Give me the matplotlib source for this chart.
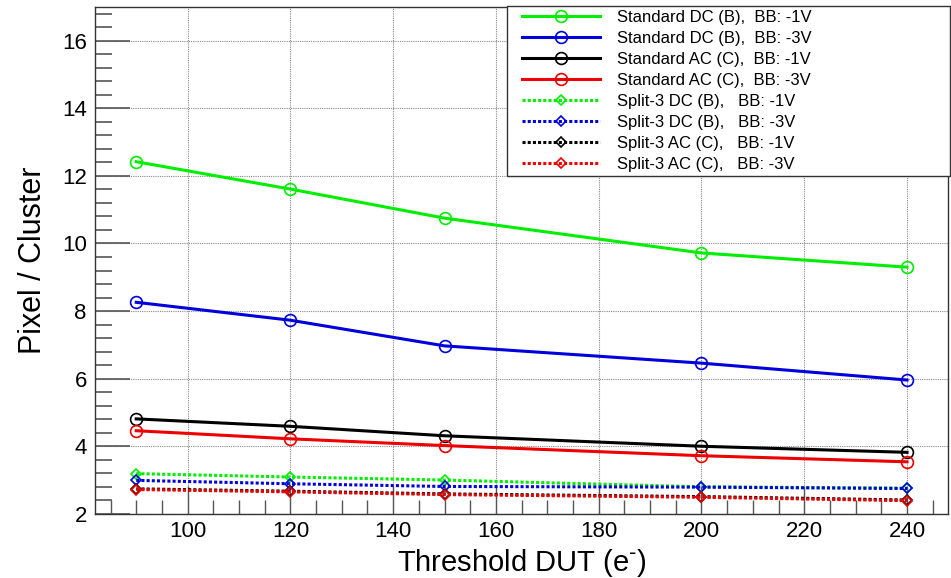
import numpy as np
import matplotlib.pyplot as plt
from matplotlib.ticker import MultipleLocator
from matplotlib.patches import Rectangle

plt.rcParams['font.family'] = ['Liberation Sans', 'DejaVu Sans']

# threshold settings (electrons)
threshold = [90, 120, 150, 200, 240]

# pixel multiplicity per cluster
std_dc_1v = [12.42, 11.61, 10.75, 9.72, 9.30]
std_dc_3v = [8.26, 7.73, 6.97, 6.46, 5.96]
std_ac_1v = [4.81, 4.59, 4.31, 4.00, 3.82]
std_ac_3v = [4.46, 4.22, 4.02, 3.72, 3.54]
spl_dc_1v = [3.19, 3.09, 3.00, 2.80, 2.76]
spl_dc_3v = [2.99, 2.89, 2.81, 2.79, 2.75]
spl_ac_1v = [2.74, 2.67, 2.59, 2.51, 2.41]
spl_ac_3v = [2.72, 2.65, 2.57, 2.49, 2.39]

labels = ['Standard DC (B),  BB: -1V', 'Standard DC (B),  BB: -3V',
          'Standard AC (C),  BB: -1V', 'Standard AC (C),  BB: -3V',
          'Split-3 DC (B),   BB: -1V', 'Split-3 DC (B),   BB: -3V',
          'Split-3 AC (C),   BB: -1V', 'Split-3 AC (C),   BB: -3V']
series = [std_dc_1v, std_dc_3v, std_ac_1v, std_ac_3v,
          spl_dc_1v, spl_dc_3v, spl_ac_1v, spl_ac_3v]
colors = ['#00ee00', '#0000dd', '#000000', '#ee0000'] * 2

fig = plt.figure(figsize=(9.51, 5.78), dpi=100)
ax = fig.add_axes([0.1, 0.111, 0.897, 0.877])

for i, (vals, lab, c) in enumerate(zip(series, labels, colors)):
    if i < 4:
        ax.plot(threshold, vals, '-', color=c, lw=2.2, marker='o', ms=8.5,
                mfc='none', mec=c, mew=1.2, label=lab, zorder=3)
    else:
        ax.plot(threshold, vals, linestyle=(0, (1, 0.7)), color=c, lw=2.2,
                marker='D', ms=5.5, mfc='none', mec=c, mew=1.2, label=lab,
                zorder=3)

ax.set_xlim(82, 248)
ax.set_ylim(2, 17)
ax.xaxis.set_major_locator(MultipleLocator(20))
ax.xaxis.set_minor_locator(MultipleLocator(5))
ax.yaxis.set_major_locator(MultipleLocator(2))
ax.yaxis.set_minor_locator(MultipleLocator(0.4))
ax.tick_params(axis='both', which='both', direction='in', colors='#555555',
               labelcolor='black', labelsize=16)
ax.tick_params(axis='y', which='major', length=25, width=1.2, pad=6)
ax.tick_params(axis='y', which='minor', length=12, width=1.2)
ax.tick_params(axis='x', which='major', length=20, width=1.0, pad=5)
ax.tick_params(axis='x', which='minor', length=10, width=1.0)
ax.grid(True, which='major', linestyle=(0, (1, 1)), color='#888888', lw=0.8)
for s in ax.spines.values():
    s.set_color('#333333')
    s.set_linewidth(1.0)

ax.set_xlabel(r'Threshold DUT (e$^{\text{-}}$)', fontsize=21, labelpad=4)
ax.set_ylabel('Pixel / Cluster', fontsize=22, labelpad=10)

# legend box drawn separately so it can be wider than its entries
box = Rectangle((0.533, 0.6955), 0.466, 0.294, transform=fig.transFigure,
                facecolor='white', edgecolor='#333333', lw=1.0, zorder=4)
fig.add_artist(box)
handles, labs = ax.get_legend_handles_labels()
leg = fig.legend(handles, labs, loc='upper left', bbox_to_anchor=(0.549, 0.9825),
                 fontsize=12, frameon=False, borderpad=0, labelspacing=0.36,
                 handlelength=4.67, handletextpad=1.0, borderaxespad=0)
leg.set_zorder(5)
for h in leg.legend_handles:
    h.set_markevery([1])

fig.savefig('out.png', dpi=100)
